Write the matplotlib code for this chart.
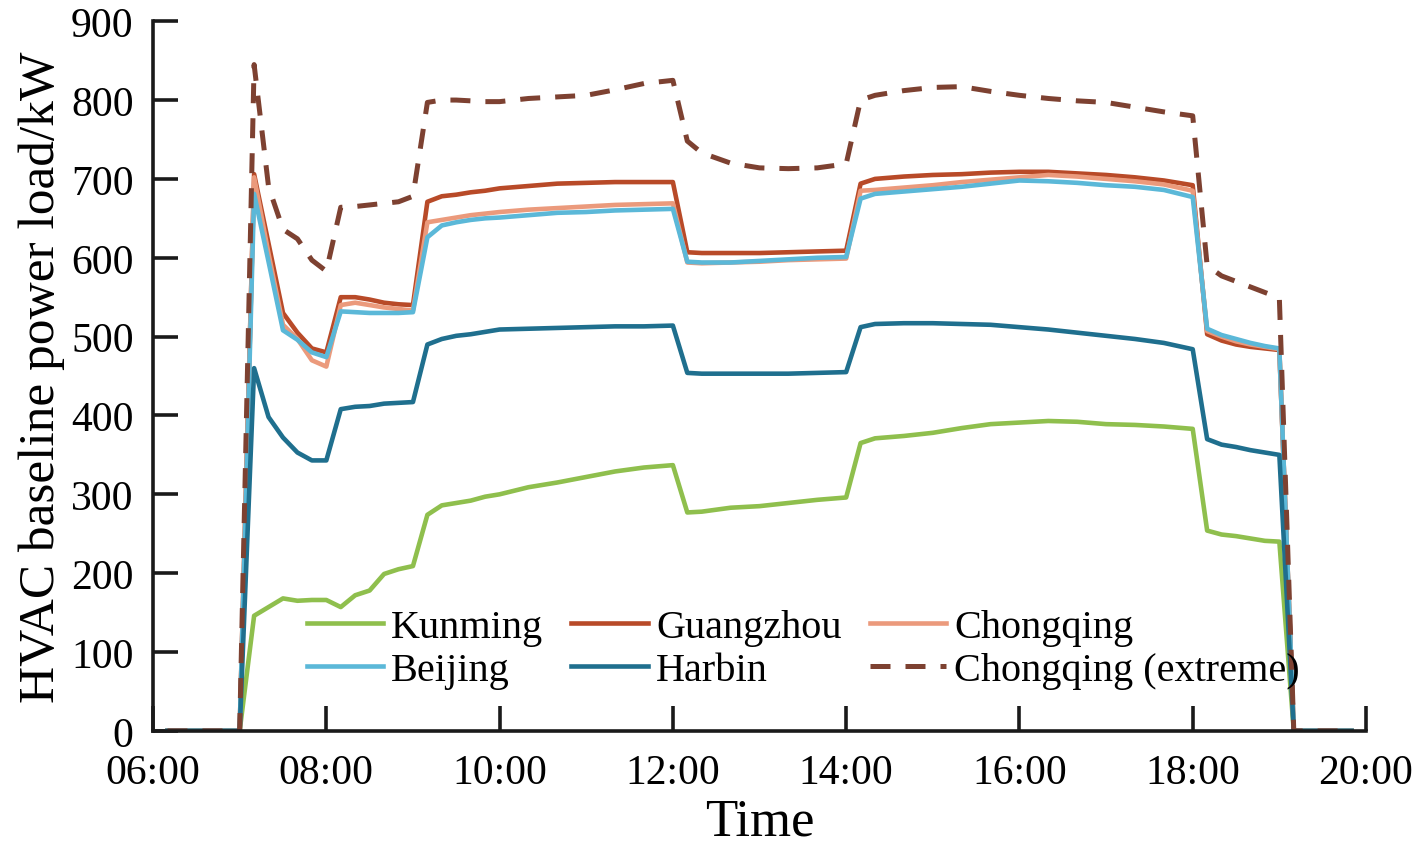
import numpy as np
import matplotlib
matplotlib.use("Agg")
import matplotlib.pyplot as plt
from matplotlib.ticker import FuncFormatter

plt.rcParams['font.family'] = ['Liberation Serif', 'DejaVu Serif']

# time stamps (hh:mm) shared by all series
times = ["06:10", "07:00", "07:10", "07:20", "07:30", "07:40", "07:50", "08:00",
         "08:10", "08:20", "08:30", "08:40", "08:50", "09:00", "09:10", "09:20",
         "09:30", "09:40", "09:50", "10:00", "10:20", "10:40", "11:00", "11:20",
         "11:40", "12:00", "12:10", "12:20", "12:40", "13:00", "13:20", "13:40",
         "14:00", "14:10", "14:20", "14:40", "15:00", "15:20", "15:40", "16:00",
         "16:20", "16:40", "17:00", "17:20", "17:40", "18:00", "18:10", "18:20",
         "18:30", "18:40", "18:50", "19:00", "19:10", "19:50"]

kunming = [0, 0, 146, 157, 168, 165, 166, 166,
           157, 172, 178, 199, 205, 209, 274, 286,
           289, 292, 297, 300, 309, 315, 322, 329,
           334, 337, 277, 278, 283, 285, 289, 293,
           296, 365, 371, 374, 378, 384, 389, 391,
           393, 392, 389, 388, 386, 383, 254, 249,
           247, 244, 241, 240, 0, 0]

guangzhou = [0, 0, 706, 618, 530, 505, 485, 480,
             550, 550, 547, 543, 541, 540, 671, 678,
             680, 683, 685, 688, 691, 694, 695, 696,
             696, 696, 607, 606, 606, 606, 607, 608,
             609, 694, 700, 703, 705, 706, 708, 709,
             709, 707, 705, 702, 698, 692, 503, 495,
             490, 487, 485, 483, 0, 0]

chongqing = [0, 0, 702, 605, 515, 497, 470, 462,
             540, 543, 540, 537, 535, 533, 645, 648,
             651, 654, 656, 658, 661, 663, 665, 667,
             668, 669, 594, 593, 594, 595, 597, 598,
             599, 685, 686, 689, 692, 696, 699, 702,
             705, 703, 700, 697, 693, 685, 507, 500,
             494, 490, 487, 484, 0, 0]

beijing = [0, 0, 681, 595, 508, 496, 480, 474,
           532, 531, 530, 530, 530, 531, 626, 641,
           645, 648, 650, 651, 654, 657, 658, 660,
           661, 662, 595, 594, 594, 596, 598, 600,
           601, 675, 681, 684, 687, 690, 694, 698,
           697, 695, 692, 690, 686, 677, 510, 502,
           497, 492, 488, 485, 0, 0]

harbin = [0, 0, 460, 398, 372, 353, 343, 343,
          408, 411, 412, 415, 416, 417, 490, 497,
          501, 503, 506, 509, 510, 511, 512, 513,
          513, 514, 454, 453, 453, 453, 453, 454,
          455, 512, 516, 517, 517, 516, 515, 512,
          509, 505, 501, 497, 492, 484, 370, 363,
          360, 356, 353, 350, 0, 0]

chongqing_ext = [0, 0, 845, 690, 636, 624, 597, 583,
                 664, 665, 667, 669, 671, 678, 797, 800,
                 800, 799, 798, 798, 802, 804, 806, 813,
                 821, 825, 748, 733, 720, 714, 713, 714,
                 719, 800, 806, 812, 816, 817, 811, 806,
                 802, 799, 797, 791, 785, 780, 590, 577,
                 570, 563, 556, 549, 0, 0]

hours = np.array([int(t[:2]) + int(t[3:]) / 60 for t in times])

fig = plt.figure(figsize=(14.17, 8.54), dpi=100)
ax = fig.add_axes([0.108, 0.143, 0.856, 0.831])

lw = 3.3
l_kun, = ax.plot(hours, kunming, color='#8fbf4d', lw=lw, label='Kunming')
l_gz, = ax.plot(hours, guangzhou, color='#b84a28', lw=lw, label='Guangzhou')
l_cq, = ax.plot(hours, chongqing, color='#eb9a7c', lw=lw, label='Chongqing')
l_bj, = ax.plot(hours, beijing, color='#5bb8d8', lw=lw, label='Beijing')
l_hb, = ax.plot(hours, harbin, color='#1f6f8e', lw=lw, label='Harbin')
l_ex, = ax.plot(hours, chongqing_ext, color='#7d4131', lw=3.6,
                linestyle=(0, (4, 3)), label='Chongqing (extreme)')

ax.set_xlim(6, 20)
ax.set_ylim(0, 900)
ax.set_xticks(np.arange(6, 21, 2))
ax.set_yticks(np.arange(0, 901, 100))
ax.xaxis.set_major_formatter(FuncFormatter(lambda v, p: "%02d:00" % int(v)))

for s in ['top', 'right']:
    ax.spines[s].set_visible(False)
for s in ['left', 'bottom']:
    ax.spines[s].set_linewidth(2.6)
    ax.spines[s].set_color('#1a1a1a')

ax.tick_params(direction='in', length=18, width=2.6, labelsize=30,
               color='#1a1a1a')
ax.tick_params(axis='x', pad=16)
ax.tick_params(axis='y', pad=14)
ax.set_xlabel('Time', fontsize=38, labelpad=4)
ax.set_ylabel('HVAC baseline power load/kW', fontsize=37, labelpad=4)

handles = [l_kun, l_bj, l_gz, l_hb, l_cq, l_ex]
fig.legend(handles=handles, labels=[h.get_label() for h in handles],
           ncol=3, frameon=False, fontsize=29,
           loc='upper left', bbox_to_anchor=(0.205, 0.305),
           handlelength=1.9, handletextpad=0.2, columnspacing=0.7,
           labelspacing=0.15, borderaxespad=0)

fig.savefig('out.png', dpi=100)
